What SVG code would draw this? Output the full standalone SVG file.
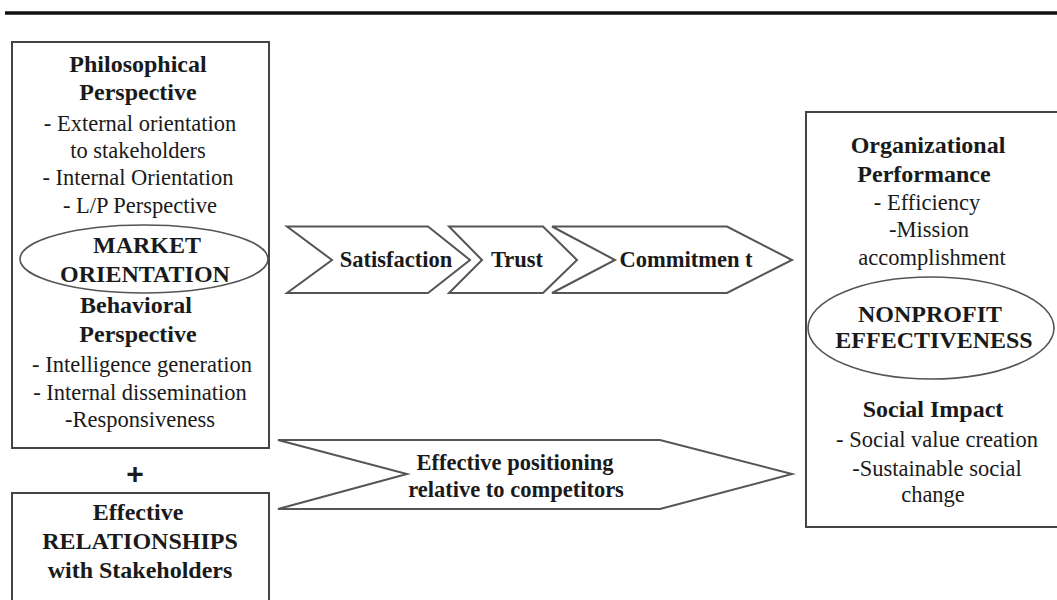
<svg xmlns="http://www.w3.org/2000/svg" width="1057" height="600" viewBox="0 0 1057 600">
<style>
text{fill:#1a1a1a;text-anchor:middle}
.b{font-weight:bold;font-size:24px}
.r{font-size:22.5px}
.cb{font-weight:bold;font-size:22.5px}
.box{fill:#fff;stroke:#444;stroke-width:2}
.ell{fill:#fff;stroke:#555;stroke-width:1.6}
.chev{fill:#fff;stroke:#555;stroke-width:2;stroke-linejoin:miter}
</style>
<rect width="1057" height="600" fill="#fff"/>
<line x1="5" y1="13" x2="1057" y2="13" stroke="#111" stroke-width="3.5"/>
<g font-family="Liberation Serif, Tinos, DejaVu Serif, serif">
<g id="market-orientation">
<rect class="box" x="12" y="42" width="257" height="406"/>
<text class="b" x="138" y="72">Philosophical</text>
<text class="b" x="138" y="100">Perspective</text>
<text class="r" x="140" y="131">- External orientation</text>
<text class="r" x="138" y="158">to stakeholders</text>
<text class="r" x="138" y="185">- Internal Orientation</text>
<text class="r" x="140" y="213">- L/P Perspective</text>
<ellipse class="ell" cx="144" cy="259" rx="124" ry="34"/>
<text class="b" x="147" y="253">MARKET</text>
<text class="b" x="145" y="282">ORIENTATION</text>
<text class="b" x="136" y="313">Behavioral</text>
<text class="b" x="138" y="342">Perspective</text>
<text class="r" x="142" y="372">- Intelligence generation</text>
<text class="r" x="140" y="400">- Internal dissemination</text>
<text class="r" x="140" y="427">-Responsiveness</text>
</g>
<g id="plus">
<text x="135" y="484" font-family="Liberation Sans, Arial, sans-serif" font-weight="bold" font-size="30">+</text>
</g>
<g id="relationships">
<rect class="box" x="12" y="493" width="257" height="120"/>
<text class="b" x="138" y="520">Effective</text>
<text class="b" x="140" y="549">RELATIONSHIPS</text>
<text class="b" x="140" y="578">with Stakeholders</text>
</g>
<g id="connectors">
<g id="satisfaction">
<polygon class="chev" points="287,226.5 428,226.5 470,260 428,293 287,293 332,260"/>
<text class="cb" x="396" y="267">Satisfaction</text>
</g>
<g id="trust">
<polygon class="chev" points="449,226.5 543,226.5 577,260 543,293 449,293 482,260"/>
<text class="cb" x="517" y="267">Trust</text>
</g>
<g id="commitment">
<polygon class="chev" points="552,226.5 727,226.5 792,260 727,293 552,293 615,260"/>
<text class="cb" x="686" y="267">Commitmen t</text>
</g>
<g id="positioning">
<polygon class="chev" points="278,440 660,440 792,474 660,509 278,509 407,474"/>
<text class="cb" x="515" y="470">Effective positioning</text>
<text class="cb" x="516" y="497">relative to competitors</text>
</g>
</g>
<g id="nonprofit-effectiveness">
<rect class="box" x="806" y="112" width="270" height="415"/>
<text class="b" x="928" y="153">Organizational</text>
<text class="b" x="924" y="182">Performance</text>
<text class="r" x="927" y="210">- Efficiency</text>
<text class="r" x="929" y="237">-Mission</text>
<text class="r" x="932" y="265">accomplishment</text>
<ellipse class="ell" cx="931" cy="328" rx="123" ry="51"/>
<text class="b" x="930" y="322">NONPROFIT</text>
<text class="b" x="934" y="348">EFFECTIVENESS</text>
<text class="b" x="933" y="417">Social Impact</text>
<text class="r" x="937" y="447">- Social value creation</text>
<text class="r" x="937" y="476">-Sustainable social</text>
<text class="r" x="933" y="502">change</text>
</g>
</g>
</svg>
